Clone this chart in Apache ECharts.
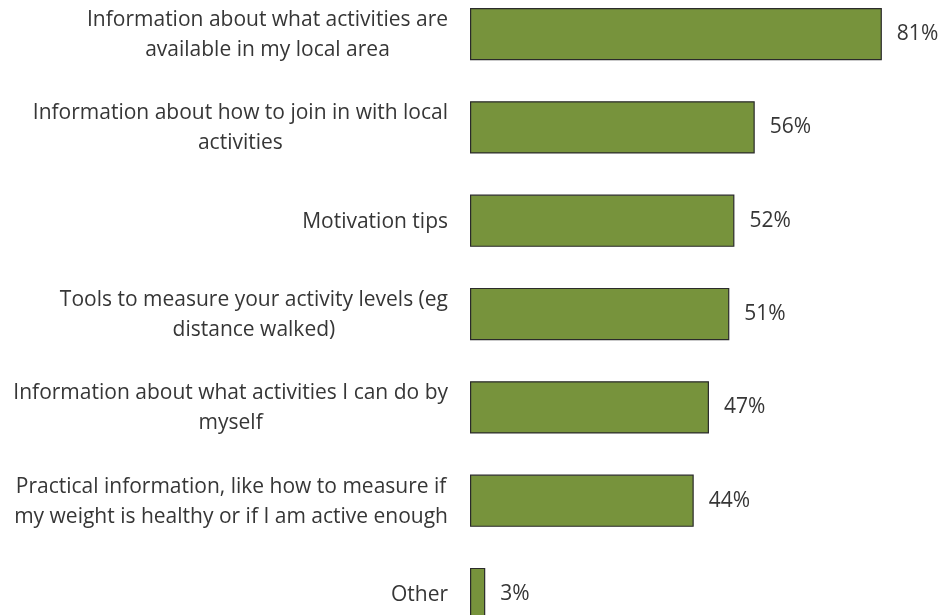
<!DOCTYPE html>
<html>
<head>
<meta charset="utf-8">
<script src="https://cdn.jsdelivr.net/npm/echarts@6/dist/echarts.min.js"></script>
<style>
  html, body { margin: 0; padding: 0; background: #fff; }
  #chart { width: 944px; height: 615px; }
</style>
</head>
<body>
<div id="chart"></div>
<script>
// Survey answers: what information people would find useful
const categories = [
  'Information about what activities are\navailable in my local area',
  'Information about how to join in with local\nactivities',
  'Motivation tips',
  'Tools to measure your activity levels (eg\ndistance walked)',
  'Information about what activities I can do by\nmyself',
  'Practical information, like how to measure if\nmy weight is healthy or if I am active enough',
  'Other'
];
const values = [81, 56, 52, 51, 47, 44, 3];

const FONT = 'Open Sans';
const SIZE = 21;
const TEXT = '#363636';

const chart = echarts.init(document.getElementById('chart'));
chart.setOption({
  animation: false,
  grid: { left: 470, top: -12.6, width: 450, height: 653.3, containLabel: false, outerBoundsMode: 'none' },
  xAxis: {
    type: 'value', min: 0, max: 88.5, show: false
  },
  yAxis: {
    type: 'category', data: categories, inverse: true,
    axisLine: { show: false }, axisTick: { show: false },
    axisLabel: {
      margin: 22, align: 'right', color: TEXT,
      fontFamily: FONT, fontSize: SIZE, lineHeight: 30,
      // each line centred inside a right-aligned block
      formatter: v => v.split('\n').map(s => '{c|' + s + '}').join('\n'),
      rich: { c: { align: 'center', fontFamily: FONT, fontSize: SIZE, lineHeight: 30, color: TEXT, padding: [2, 0, 0, 0] } }
    }
  },
  series: [{
    type: 'bar', data: values, barCategoryGap: '44%',
    itemStyle: { color: '#77933C', borderColor: '#2b2b2b', borderWidth: 1.2 },
    label: {
      show: true, position: 'right', distance: 15, formatter: '{c}%',
      color: TEXT, fontFamily: FONT, fontSize: SIZE
    }
  }]
});
</script>
</body>
</html>
